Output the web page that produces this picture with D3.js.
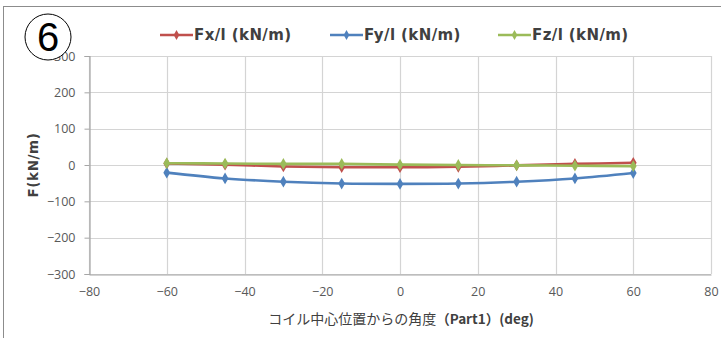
<!DOCTYPE html>
<html>
<head>
<meta charset="utf-8">
<script src="https://cdn.jsdelivr.net/npm/d3@7"></script>
<style>
  html, body { margin: 0; padding: 0; background: #fff; }
  svg { display: block; }
  text { font-family: "Open Sans", "Liberation Sans", sans-serif; }
</style>
</head>
<body>
<svg id="chart" width="721" height="338"></svg>
<script>
// Angle from coil centre (deg)
const angles = [-60, -45, -30, -15, 0, 15, 30, 45, 60];
// Force per unit length (kN/m)
const fx = [4, 1, -4, -6, -6, -5, -1, 3, 6];
const fy = [-21, -37, -46, -51, -52, -51, -46, -37, -22];
const fz = [5, 4, 3, 3, 1, 0, -1, -2, -3];

const seriesNames = ["Fx/l (kN/m)", "Fy/l (kN/m)", "Fz/l (kN/m)"];
const seriesColors = ["#C0504D", "#4F81BD", "#9BBB59"];
const xTicks = [-80, -60, -40, -20, 0, 20, 40, 60, 80];
const yTicks = [-300, -200, -100, 0, 100, 200, 300];
const xTitleJa = "コイル中心位置からの角度";
const xTitleEn = "（Part1）(deg)";
const yTitle = "F(kN/m)";
const panelMark = "6";

const series = [fx, fy, fz].map((vals, i) => ({
  name: seriesNames[i],
  color: seriesColors[i],
  points: angles.map((a, j) => ({ x: a, y: vals[j] }))
}));

const svg = d3.select("#chart");
const W = 721, H = 338;
const plot = { left: 89, right: 711, top: 56, bottom: 274 };

// outer chart frame
svg.append("rect")
  .attr("x", 3.5).attr("y", 6.5)
  .attr("width", W + 10).attr("height", H + 10)
  .attr("fill", "#fff").attr("stroke", "#8c8c8c").attr("stroke-width", 1);

const x = d3.scaleLinear().domain([-80, 80]).range([plot.left, plot.right]);
const y = d3.scaleLinear().domain([-300, 300]).range([plot.bottom, plot.top]);

// gridlines
const grid = svg.append("g");
grid.selectAll("line.h").data(yTicks).join("line")
  .attr("x1", plot.left).attr("x2", plot.right)
  .attr("y1", d => Math.round(y(d)) + 0.5).attr("y2", d => Math.round(y(d)) + 0.5)
  .attr("stroke", "#d4d4d4").attr("stroke-width", 1.2);
grid.selectAll("line.v").data(xTicks).join("line")
  .attr("y1", plot.top).attr("y2", plot.bottom)
  .attr("x1", d => Math.round(x(d)) + 0.5).attr("x2", d => Math.round(x(d)) + 0.5)
  .attr("stroke", "#d4d4d4").attr("stroke-width", 1.2);

// axes
const xAxis = svg.append("g")
  .attr("transform", `translate(0,${Math.round(y(-300)) + 0.5})`)
  .call(d3.axisBottom(x).tickValues(xTicks).tickSize(0).tickPadding(13).tickFormat(d3.format("d")));
const yAxis = svg.append("g")
  .attr("transform", `translate(${Math.round(x(-80)) + 0.5},0)`)
  .call(d3.axisLeft(y).tickValues(yTicks).tickSize(5).tickPadding(9).tickFormat(d3.format("d")));
[xAxis, yAxis].forEach(g => {
  g.select(".domain").attr("stroke", "#a6a6a6").attr("stroke-width", 1.2);
  g.selectAll(".tick line").attr("stroke", "#a6a6a6");
  g.selectAll(".tick text")
    .attr("fill", "#595959")
    .style("font-size", "12.5px")
    .style("font-family", "'Open Sans', 'Liberation Sans', sans-serif");
});

// series lines and diamond markers
const line = d3.line()
  .x(d => x(d.x)).y(d => y(d.y))
  .curve(d3.curveCatmullRom.alpha(0.5));
const diamond = d3.symbol().type(d3.symbolDiamond).size(40);

const sg = svg.append("g").selectAll("g").data(series).join("g");
sg.append("path")
  .attr("d", d => line(d.points))
  .attr("fill", "none")
  .attr("stroke", d => d.color)
  .attr("stroke-width", 2.6)
  .attr("stroke-linejoin", "round");
sg.each(function (s) {
  d3.select(this).selectAll("path.m").data(s.points).join("path")
    .attr("class", "m")
    .attr("d", diamond)
    .attr("transform", d => `translate(${x(d.x)},${y(d.y)})`)
    .attr("fill", s.color);
});

// legend
const legendX = [160, 330, 498];
const legend = svg.append("g").selectAll("g").data(series).join("g")
  .attr("transform", (d, i) => `translate(${legendX[i]},35)`);
legend.append("line")
  .attr("x1", 0).attr("x2", 33).attr("y1", 0).attr("y2", 0)
  .attr("stroke", d => d.color).attr("stroke-width", 2.6);
legend.append("path")
  .attr("d", d3.symbol().type(d3.symbolDiamond).size(28))
  .attr("transform", "translate(16.5,0)")
  .attr("fill", d => d.color);
legend.append("text")
  .attr("x", 34).attr("y", 0).attr("dy", "0.36em")
  .style("font-family", "'DejaVu Sans', sans-serif")
  .style("font-size", "15px").style("font-weight", "bold")
  .style("letter-spacing", "0.4px")
  .attr("fill", "#404040")
  .text(d => d.name);

// axis titles
const xt = svg.append("text")
  .attr("x", 401).attr("y", 319).attr("dy", "0.35em")
  .attr("text-anchor", "middle")
  .style("font-family", "'Noto Sans CJK JP', sans-serif")
  .style("font-size", "14px")
  .attr("fill", "#404040");
xt.append("tspan").text(xTitleJa);
xt.append("tspan").style("font-weight", "bold").style("font-size", "13.5px").text(xTitleEn);

svg.append("text")
  .attr("transform", "translate(33,165) rotate(-90)")
  .attr("text-anchor", "middle").attr("dy", "0.35em")
  .style("font-family", "'DejaVu Sans', sans-serif")
  .style("font-size", "13.5px").style("font-weight", "bold")
  .style("letter-spacing", "0.6px")
  .attr("fill", "#404040")
  .text(yTitle);

// circled panel number
svg.append("circle")
  .attr("cx", 48).attr("cy", 37).attr("r", 23)
  .attr("fill", "#fff").attr("stroke", "#000").attr("stroke-width", 1);
svg.append("text")
  .attr("x", 48).attr("y", 37).attr("dy", "0.36em")
  .attr("text-anchor", "middle")
  .style("font-family", "'Liberation Sans', sans-serif")
  .style("font-size", "40px")
  .attr("fill", "#000")
  .text(panelMark);
</script>
</body>
</html>
